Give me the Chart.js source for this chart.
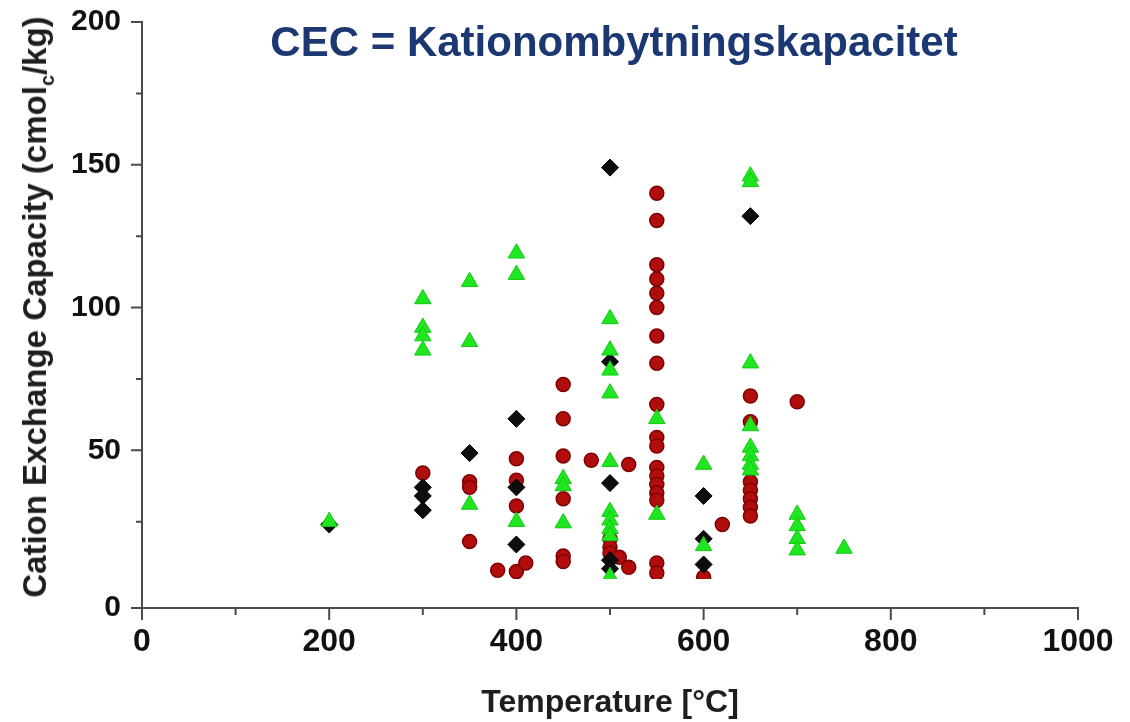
<!DOCTYPE html>
<html>
<head>
<meta charset="utf-8">
<title>CEC - Kationombytningskapacitet</title>
<script src="https://cdn.jsdelivr.net/npm/chart.js@4.4.1/dist/chart.umd.min.js"></script>
<style>
  html, body { margin: 0; padding: 0; background: #fff; }
  #wrap { position: relative; width: 1130px; height: 722px; overflow: hidden; }
  #cecChart { position: absolute; left: 0; top: 0; }
  .big-title {
    position: absolute; left: 614px; top: 21px; transform: translateX(-50%);
    font: bold 42px "Liberation Sans", Arial, sans-serif; line-height: 42px;
    color: #1c3872; white-space: nowrap;
  }
  .y-title {
    position: absolute; left: 35px; top: 307px;
    transform: translate(-50%, -50%) rotate(-90deg);
    font: bold 33px "Liberation Sans", Arial, sans-serif; line-height: 36px;
    color: #1e1e1e; white-space: nowrap;
  }
  .y-title sub { font-size: 0.6em; line-height: 0; }
</style>
</head>
<body>
<div id="wrap">
  <canvas id="cecChart" width="1130" height="722"></canvas>
  <div class="big-title">CEC = Kationombytningskapacitet</div>
  <div class="y-title">Cation Exchange Capacity (cmol<sub>c</sub>/kg)</div>
</div>
<script>
// Data: temperature [°C] and CEC [cmolc/kg]
const blackTemps = [200, 300, 300, 300, 350, 400, 400, 400, 500, 500, 500, 500, 500, 600, 600, 600, 650];
const blackCec   = [24, 37, 34, 29, 49, 61, 37, 17, 149, 81, 38.5, 11.5, 8.5, 34, 19, 10, 132];

const redTemps = [300, 350, 350, 350, 380, 400, 400, 400, 400, 410,
                  450, 450, 450, 450, 450, 450, 480, 500, 500, 500, 510, 520, 520,
                  550, 550, 550, 550, 550, 550, 550, 550, 550, 550, 550, 550, 550, 550, 550, 550, 550, 550,
                  600, 620, 650, 650, 650, 650, 650, 650, 650, 700];
const redCec   = [42, 39, 37, 18, 8, 47, 39.5, 30.5, 7.5, 10.5,
                  73, 61, 48, 33, 13, 11, 46.5, 19, 16, 14, 12.5, 45, 9,
                  140, 130.5, 115, 110, 105, 100, 90, 80.5, 66, 54.5, 51.5, 44, 41, 38, 35, 32.5, 10.5, 7,
                  5.5, 24, 69, 60, 39, 36, 33, 30, 27, 67];

const greenTemps = [200, 300, 300, 300, 300, 350, 350, 350, 400, 400, 400, 450, 450, 450,
                    500, 500, 500, 500, 500, 500, 500, 500, 500, 500, 550, 550, 600, 600,
                    650, 650, 650, 650, 650, 650, 650, 650, 700, 700, 700, 700, 750];
const greenCec   = [25, 103, 93, 90, 85, 109, 88, 31, 119, 111.5, 25, 40, 37.5, 24.5,
                    96, 85, 78, 70, 46, 28.5, 25.5, 22.5, 20, 5.7, 61, 27.5, 45, 16.5,
                    146, 144, 80.5, 58.5, 51, 48, 45, 43, 27.5, 23.5, 19, 15, 15.6];

// Axis ticks
const xTickLabels = [0, 200, 400, 600, 800, 1000];
const xMinorTicks = [100, 300, 500, 700, 900];
const yTickLabels = [0, 50, 100, 150, 200];
const yMinorTicks = [25, 75, 125, 175];

// The source figure has its x axis a little below y = 0 (a strip was cut out),
// so the axis sits at this value and values below CLIP_AT are hidden.
const Y_AXIS_AT = -5.25;
const CLIP_AT = 4.9;

function toPoints(xs, ys) {
  return xs.map((x, i) => ({ x: x, y: ys[i] }));
}

document.addEventListener('DOMContentLoaded', function () {
  const ctx = document.getElementById('cecChart').getContext('2d');
  const FONT = '"Liberation Sans", Arial, sans-serif';
  const AXIS_COLOR = '#4a4a4a';

  // hide the markers that fall in the removed strip
  const clipStrip = {
    id: 'clipStrip',
    beforeDatasetsDraw(chart) {
      const a = chart.chartArea;
      const yBottom = chart.scales.y.getPixelForValue(CLIP_AT);
      chart.ctx.save();
      chart.ctx.beginPath();
      chart.ctx.rect(a.left - 20, a.top - 20, a.right - a.left + 40, yBottom - a.top + 20);
      chart.ctx.clip();
    },
    afterDatasetsDraw(chart) {
      chart.ctx.restore();
    }
  };

  // major / minor tick marks (chart.js uses one tick length for all)
  const tickMarks = {
    id: 'tickMarks',
    afterDraw(chart) {
      const c = chart.ctx;
      const xs = chart.scales.x, ys = chart.scales.y;
      const x0 = xs.left, y0 = ys.bottom;
      c.save();
      c.strokeStyle = AXIS_COLOR;
      c.lineWidth = 2;
      c.beginPath();
      xTickLabels.forEach(v => { const p = xs.getPixelForValue(v); c.moveTo(p, y0); c.lineTo(p, y0 + 12); });
      xMinorTicks.forEach(v => { const p = xs.getPixelForValue(v); c.moveTo(p, y0); c.lineTo(p, y0 + 7); });
      yTickLabels.forEach(v => {
        const p = ys.getPixelForValue(v === 0 ? Y_AXIS_AT : v);
        c.moveTo(x0, p); c.lineTo(x0 - 11, p);
      });
      yMinorTicks.forEach(v => { const p = ys.getPixelForValue(v); c.moveTo(x0, p); c.lineTo(x0 - 6, p); });
      c.stroke();
      c.restore();
    }
  };

  new Chart(ctx, {
    type: 'scatter',
    data: {
      datasets: [
        {
          label: 'Green',
          data: toPoints(greenTemps, greenCec),
          pointStyle: 'triangle',
          pointRadius: 9.5,
          backgroundColor: '#1fe61f',
          borderColor: '#14c814',
          borderWidth: 1,
          order: 0
        },
        {
          label: 'Black',
          data: toPoints(blackTemps, blackCec),
          pointStyle: 'rectRot',
          pointRadius: 8.5,
          backgroundColor: '#0d0d0d',
          borderColor: '#000',
          borderWidth: 1,
          order: 1
        },
        {
          label: 'Red',
          data: toPoints(redTemps, redCec),
          pointStyle: 'circle',
          pointRadius: 7,
          backgroundColor: '#b10d0d',
          borderColor: '#7d0303',
          borderWidth: 1.5,
          order: 2
        }
      ]
    },
    options: {
      responsive: false,
      animation: false,
      layout: { padding: { top: 22, right: 52, bottom: 0, left: 0 } },
      plugins: {
        legend: { display: false },
        tooltip: { enabled: false }
      },
      scales: {
        x: {
          type: 'linear',
          min: 0,
          max: 1000,
          afterFit(scale) {
            scale.height = 114;
            scale.paddingLeft = 0;
            scale.paddingRight = 0;
          },
          grid: { display: true, drawOnChartArea: false, drawTicks: false },
          border: { display: true, color: AXIS_COLOR, width: 2 },
          ticks: {
            stepSize: 100,
            autoSkip: false,
            maxRotation: 0,
            padding: 15,
            color: '#111',
            font: { family: FONT, size: 32, weight: 'bold' },
            callback: v => (xTickLabels.includes(v) ? String(v) : '')
          },
          title: {
            display: true,
            text: 'Temperature [°C]',
            color: '#1e1e1e',
            padding: { top: 0, bottom: 0 },
            font: { family: FONT, size: 32, weight: 'bold' }
          }
        },
        y: {
          type: 'linear',
          min: Y_AXIS_AT,
          max: 200,
          afterFit(scale) {
            scale.width = 142;
            scale.paddingTop = 0;
            scale.paddingBottom = 0;
          },
          afterBuildTicks(scale) {
            const vals = [Y_AXIS_AT].concat(yTickLabels.slice(1), yMinorTicks).sort((a, b) => a - b);
            scale.ticks = vals.map(v => ({ value: v }));
          },
          grid: { display: true, drawOnChartArea: false, drawTicks: false },
          border: { display: true, color: AXIS_COLOR, width: 2 },
          ticks: {
            autoSkip: false,
            padding: 21,
            color: '#111',
            font: { family: FONT, size: 30, weight: 'bold' },
            callback: v => (v === Y_AXIS_AT ? '0' : (yTickLabels.includes(v) ? String(v) : ''))
          }
        }
      }
    },
    plugins: [clipStrip, tickMarks]
  });
});
</script>
</body>
</html>
